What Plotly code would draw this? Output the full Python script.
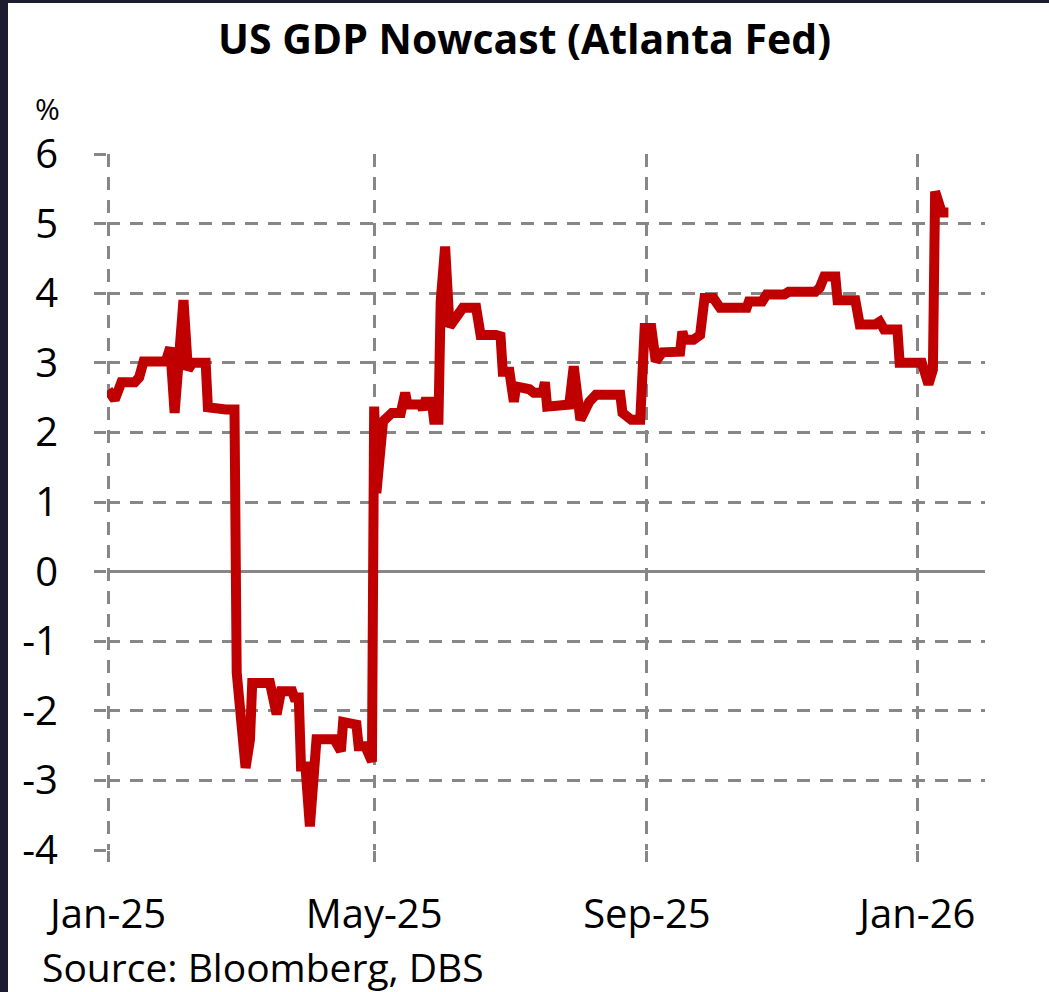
import plotly.graph_objects as go

# ---- data ----
dates = [
    "2025-01-01", "2025-01-04", "2025-01-07", "2025-01-13", "2025-01-15", "2025-01-17",
    "2025-01-27", "2025-01-29", "2025-01-31", "2025-02-04", "2025-02-06", "2025-02-08",
    "2025-02-14", "2025-02-15", "2025-02-23", "2025-02-27", "2025-02-28", "2025-03-04",
    "2025-03-06", "2025-03-07", "2025-03-15", "2025-03-18", "2025-03-20", "2025-03-25",
    "2025-03-26", "2025-03-28", "2025-03-29", "2025-03-31", "2025-04-02", "2025-04-04",
    "2025-04-05", "2025-04-13", "2025-04-16", "2025-04-17", "2025-04-23", "2025-04-24",
    "2025-04-27", "2025-04-30", "2025-05-01", "2025-05-02", "2025-05-05", "2025-05-09",
    "2025-05-13", "2025-05-15", "2025-05-16", "2025-05-22", "2025-05-23", "2025-05-24",
    "2025-05-27", "2025-05-28", "2025-05-30", "2025-05-31", "2025-06-02", "2025-06-04",
    "2025-06-07", "2025-06-10", "2025-06-16", "2025-06-18", "2025-06-25", "2025-06-27",
    "2025-06-28", "2025-07-01", "2025-07-03", "2025-07-04", "2025-07-10", "2025-07-12",
    "2025-07-16", "2025-07-17", "2025-07-18", "2025-07-27", "2025-07-28", "2025-07-30",
    "2025-08-02", "2025-08-06", "2025-08-09", "2025-08-20", "2025-08-21", "2025-08-25",
    "2025-08-29", "2025-08-31", "2025-09-03", "2025-09-05", "2025-09-08", "2025-09-16",
    "2025-09-17", "2025-09-18", "2025-09-22", "2025-09-25", "2025-09-27", "2025-10-01",
    "2025-10-04", "2025-10-16", "2025-10-17", "2025-10-23", "2025-10-25", "2025-11-02",
    "2025-11-04", "2025-11-16", "2025-11-18", "2025-11-20", "2025-11-25", "2025-11-26",
    "2025-12-04", "2025-12-06", "2025-12-13", "2025-12-15", "2025-12-17", "2025-12-23",
    "2025-12-24", "2026-01-03", "2026-01-06", "2026-01-08", "2026-01-09", "2026-01-12",
    "2026-01-15",
]
gdp_nowcast = [
    2.61, 2.47, 2.72, 2.72, 2.79, 3.02,
    3.02, 3.22, 2.28, 3.90, 2.90, 3.00,
    3.00, 2.36, 2.33, 2.33, -1.45, -2.82,
    -2.41, -1.60, -1.60, -2.05, -1.72, -1.72,
    -1.81, -1.81, -2.80, -2.80, -3.66, -2.99,
    -2.41, -2.41, -2.58, -2.16, -2.20, -2.51,
    -2.51, -2.73, 2.37, 1.13, 2.16, 2.28,
    2.28, 2.57, 2.40, 2.40, 2.33, 2.44,
    2.44, 2.18, 2.18, 3.88, 4.67, 3.52,
    3.69, 3.79, 3.79, 3.40, 3.40, 3.38,
    2.87, 2.87, 2.44, 2.66, 2.62, 2.57,
    2.57, 2.72, 2.37, 2.37, 2.40, 2.95,
    2.18, 2.44, 2.54, 2.54, 2.28, 2.18,
    2.18, 3.50, 3.50, 3.02, 3.15, 3.16,
    3.45, 3.33, 3.33, 3.40, 3.93, 3.93,
    3.79, 3.79, 3.88, 3.88, 3.98, 3.98,
    4.02, 4.02, 4.08, 4.24, 4.24, 3.90,
    3.90, 3.55, 3.55, 3.59, 3.48, 3.48,
    3.00, 3.00, 2.69, 2.90, 5.46, 5.16,
    5.16,
]
x_tick_dates = ["2025-01-01", "2025-05-01", "2025-09-01", "2026-01-01"]
x_tick_labels = ["Jan-25", "May-25", "Sep-25", "Jan-26"]
y_ticks = [-4, -3, -2, -1, 0, 1, 2, 3, 4, 5, 6]
y_tick_labels = ["-4", "-3", "-2", "-1", "0", "1", "2", "3", "4", "5", "6"]

# ---- layout geometry ----
W, H = 1049, 992
ML, MR, MT, MB = 107, 64, 154, 142
PW = W - ML - MR
PH = H - MT - MB
FONT = "Open Sans"
GRID = "#878787"

fig = go.Figure()
fig.add_trace(go.Scatter(
    x=dates, y=gdp_nowcast, mode="lines",
    line=dict(color="#C00000", width=10, shape="linear"),
    hoverinfo="skip", showlegend=False,
))

fig.update_layout(
    width=W, height=H,
    margin=dict(l=ML, r=MR, t=MT, b=MB, pad=0),
    paper_bgcolor="white", plot_bgcolor="white",
    font=dict(family=FONT, color="black", size=40),
    title=dict(
        text="<b>US GDP Nowcast (Atlanta Fed)</b>",
        font=dict(family=FONT, size=41, color="black"),
        xref="container", x=0.5, xanchor="center",
        yref="container", y=1 - 40 / H, yanchor="middle",
    ),
    xaxis=dict(
        type="date",
        range=["2024-12-31 12:00", "2026-01-31 12:00"],
        tickmode="array", tickvals=x_tick_dates, ticktext=x_tick_labels,
        showgrid=True, gridcolor=GRID, gridwidth=3, griddash="13px,10px",
        ticks="outside", ticklen=11, tickwidth=3, tickcolor=GRID,
        tickfont=dict(family=FONT, size=40, color="black"),
        ticklabelstandoff=18,
        showline=False, zeroline=False,
    ),
    yaxis=dict(
        range=[-4, 6],
        tickmode="array", tickvals=y_ticks, ticktext=y_tick_labels,
        showgrid=True, gridcolor=GRID, gridwidth=3, griddash="13px,10px",
        ticks="outside", ticklen=12, tickwidth=3, tickcolor=GRID,
        tickfont=dict(family=FONT, size=40, color="black"),
        ticklabelstandoff=28,
        zeroline=True, zerolinecolor=GRID, zerolinewidth=3,
        showline=False,
    ),
)

# dark band at left and top (part of the screenshot frame)
dark = "#1c1b30"
fig.add_shape(type="rect", xref="paper", yref="paper",
              x0=-ML / PW, x1=(8 - ML) / PW, y0=-MB / PH, y1=1 + MT / PH,
              fillcolor=dark, line_width=0, layer="above")
fig.add_shape(type="rect", xref="paper", yref="paper",
              x0=-ML / PW, x1=1 + MR / PW, y0=1 + (MT - 3) / PH, y1=1 + MT / PH,
              fillcolor=dark, line_width=0, layer="above")

# "%" unit label
fig.add_annotation(text="%", xref="paper", yref="paper",
                   x=(47 - ML) / PW, y=1 + (MT - 108) / PH,
                   xanchor="center", yanchor="middle", showarrow=False,
                   font=dict(family=FONT, size=30, color="black"))
# source note
fig.add_annotation(text="Source: Bloomberg, DBS", xref="paper", yref="paper",
                   x=(40 - ML) / PW, y=-(966 - (MT + PH)) / PH,
                   xanchor="left", yanchor="middle", showarrow=False,
                   font=dict(family=FONT, size=39, color="black"))

fig.write_html("out.html")
